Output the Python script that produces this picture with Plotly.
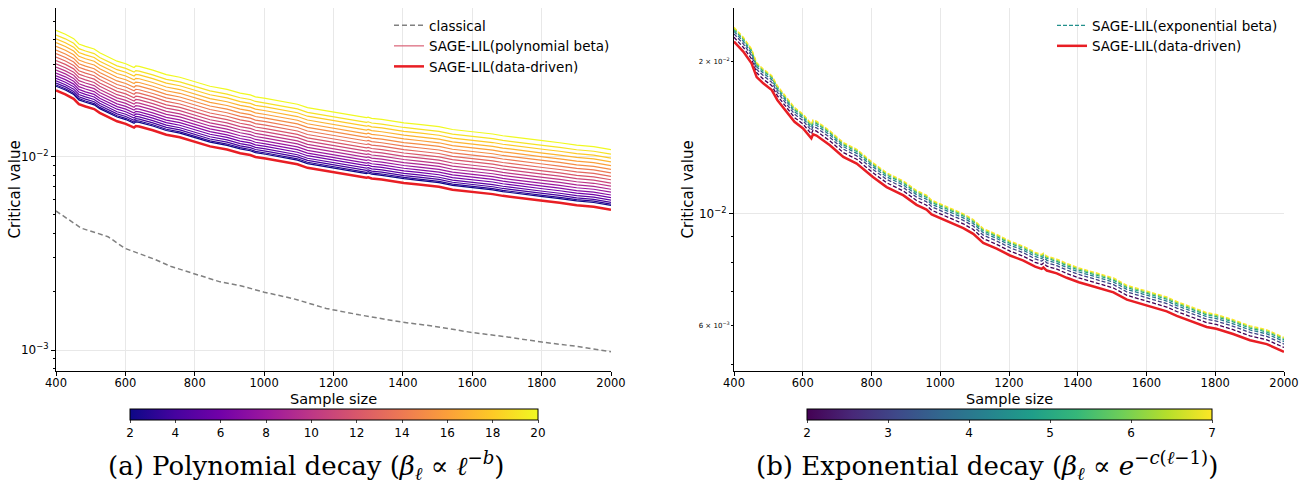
import plotly.graph_objects as go
from plotly.colors import sample_colorscale

# ---------------- data ----------------
n_dd = [400, 427, 451, 466, 485, 510, 526, 548,
        576, 601, 620, 625, 630, 640, 679, 718, 757, 804,
        844, 893, 931, 960, 975, 1004, 1038, 1067, 1096, 1125,
        1164, 1203, 1242, 1276, 1295, 1300, 1310, 1339, 1368, 1403,
        1446, 1465, 1484, 1504, 1543, 1604, 1659, 1688, 1736, 1775,
        1803, 1852, 1901, 1950, 2000]
crit_dd = [0.02194, 0.02096, 0.01987, 0.01865, 0.01813, 0.01758, 0.01680, 0.01604,
           0.01520, 0.01475, 0.01422, 0.01410, 0.01436, 0.01428, 0.01366, 0.01295, 0.01256, 0.01181,
           0.01128, 0.01086, 0.01040, 0.01018, 0.00995, 0.00976, 0.00954, 0.00935, 0.00911, 0.00874,
           0.00851, 0.00825, 0.00806, 0.00784, 0.00776, 0.00781, 0.00770, 0.00760, 0.00745, 0.00730,
           0.00716, 0.00710, 0.00704, 0.00697, 0.00674, 0.00656, 0.00639, 0.00626, 0.00609, 0.00595,
           0.00590, 0.00576, 0.00560, 0.00550, 0.00531]

n_cl = [400, 438, 473, 520, 550, 599, 685, 732, 800, 873, 932, 1000, 1085, 1179,
        1274, 1401, 1486, 1601, 1697, 1800, 1909, 2000]
crit_cl = [0.00523, 0.00470, 0.00426, 0.00401, 0.00385, 0.00335, 0.00294, 0.00270, 0.00247, 0.00225,
           0.00215, 0.00199, 0.00184, 0.00164, 0.00152, 0.00139, 0.00133, 0.00123, 0.00117, 0.00110,
           0.00104, 0.00098]

b_vals = list(range(2, 21))
poly_mult = [1.052, 1.068, 1.092, 1.121, 1.155, 1.191, 1.231, 1.275, 1.322, 1.373,
             1.428, 1.487, 1.550, 1.617, 1.689, 1.766, 1.848, 1.935, 2.045]

c_vals = [2, 3, 4, 5, 6, 7]
exp_mult = [1.020, 1.036, 1.048, 1.057, 1.063, 1.068]

x_ticks = [400, 600, 800, 1000, 1200, 1400, 1600, 1800, 2000]
b_ticks = [2, 4, 6, 8, 10, 12, 14, 16, 18, 20]
c_ticks = [2, 3, 4, 5, 6, 7]

assert len(n_dd) == len(crit_dd) and len(n_cl) == len(crit_cl)

FONT = "DejaVu Sans"
RED = "rgb(232,30,36)"
W, H = 1310, 487

fig = go.Figure()

# ---------------- left panel ----------------
pcols = sample_colorscale("Plasma", [(b - b_vals[0]) / (b_vals[-1] - b_vals[0]) for b in b_vals])
for b, m, col in zip(b_vals, poly_mult, pcols):
    fig.add_trace(go.Scatter(x=n_dd, y=[v * m for v in crit_dd], mode="lines",
                             line=dict(color=col, width=1.2), showlegend=False,
                             xaxis="x", yaxis="y", hoverinfo="skip"))
fig.add_trace(go.Scatter(x=n_cl, y=crit_cl, mode="lines", name="classical",
                         line=dict(color="rgb(128,128,128)", width=1.5, dash="5px,3px"),
                         xaxis="x", yaxis="y", legend="legend", legendrank=1))
fig.add_trace(go.Scatter(x=[None], y=[None], mode="lines", name="SAGE-LIL(polynomial beta)",
                         line=dict(color=sample_colorscale("Plasma", [0.55])[0], width=1.5),
                         opacity=0.75, xaxis="x", yaxis="y", legend="legend", legendrank=2))
fig.add_trace(go.Scatter(x=n_dd, y=crit_dd, mode="lines", name="SAGE-LIL(data-driven)",
                         line=dict(color=RED, width=2.5), xaxis="x", yaxis="y",
                         legend="legend", legendrank=3))
# colorbar carrier
fig.add_trace(go.Scatter(x=[n_dd[0]] * len(b_vals), y=[crit_dd[0]] * len(b_vals), mode="markers",
                         marker=dict(color=b_vals, colorscale="Plasma", cmin=b_vals[0], cmax=b_vals[-1],
                                     opacity=0, size=1, showscale=True,
                                     colorbar=dict(orientation="h", x=(130 + 538) / 2 / W, xanchor="center",
                                                   y=1 - 409 / H, yanchor="top", len=(538 - 130) / W,
                                                   lenmode="fraction", thickness=11, outlinewidth=1,
                                                   outlinecolor="black", tickvals=b_ticks, ticks="outside",
                                                   ticklen=3, tickfont=dict(family=FONT, size=12, color="black"),
                                                   xpad=0, ypad=0)),
                         showlegend=False, hoverinfo="skip", xaxis="x", yaxis="y"))

# ---------------- right panel ----------------
vcols = sample_colorscale("Viridis", [(c - c_vals[0]) / (c_vals[-1] - c_vals[0]) for c in c_vals])
for c, m, col in zip(c_vals, exp_mult, vcols):
    fig.add_trace(go.Scatter(x=n_dd, y=[v * m for v in crit_dd], mode="lines",
                             line=dict(color=col, width=1.3, dash="4px,2px"), showlegend=False,
                             xaxis="x2", yaxis="y2", hoverinfo="skip"))
fig.add_trace(go.Scatter(x=[None], y=[None], mode="lines", name="SAGE-LIL(exponential beta)",
                         line=dict(color=sample_colorscale("Viridis", [0.5])[0], width=1.3, dash="4px,2px"),
                         xaxis="x2", yaxis="y2", legend="legend2", legendrank=1))
fig.add_trace(go.Scatter(x=n_dd, y=crit_dd, mode="lines", name="SAGE-LIL(data-driven)",
                         line=dict(color=RED, width=2.5), xaxis="x2", yaxis="y2",
                         legend="legend2", legendrank=2))
fig.add_trace(go.Scatter(x=[n_dd[0]] * len(c_vals), y=[crit_dd[0]] * len(c_vals), mode="markers",
                         marker=dict(color=c_vals, colorscale="Viridis", cmin=c_vals[0], cmax=c_vals[-1],
                                     opacity=0, size=1, showscale=True,
                                     colorbar=dict(orientation="h", x=(807 + 1212) / 2 / W, xanchor="center",
                                                   y=1 - 409 / H, yanchor="top", len=(1212 - 807) / W,
                                                   lenmode="fraction", thickness=11, outlinewidth=1,
                                                   outlinecolor="black", tickvals=c_ticks, ticks="outside",
                                                   ticklen=3, tickfont=dict(family=FONT, size=12, color="black"),
                                                   xpad=0, ypad=0)),
                         showlegend=False, hoverinfo="skip", xaxis="x2", yaxis="y3"))

# ---------------- layout ----------------
top = 1 - 8 / H
bot = 1 - 371 / H
xcommon = dict(range=[400, 2000], tickvals=x_ticks, ticks="outside", ticklen=4, tickcolor="black",
               showline=True, linecolor="black", linewidth=1, showgrid=True, gridcolor="#e8e8e8",
               zeroline=False, automargin=False, ticklabelstandoff=-3,
               tickfont=dict(family=FONT, size=11.5, color="black"))
fig.update_layout(
    width=W, height=H, margin=dict(l=0, r=0, t=0, b=0, autoexpand=False),
    paper_bgcolor="white", plot_bgcolor="white",
    font=dict(family=FONT, color="black"),
    xaxis=dict(domain=[56 / W, 611 / W], anchor="y", **xcommon),
    xaxis2=dict(domain=[734 / W, 1284 / W], anchor="y2", **xcommon),
    yaxis=dict(domain=[bot, top], anchor="x", type="log", range=[-3.1085, -1.2326],
               tickvals=[0.001, 0.01], ticktext=["10<sup>−3</sup>", "10<sup>−2</sup>"],
               ticks="outside", ticklen=4, tickcolor="black", showline=True, linecolor="black",
               showgrid=True, gridcolor="#e8e8e8", zeroline=False, automargin=False,
               tickfont=dict(family=FONT, size=12, color="black"),
               minor=dict(tickvals=[0.0008, 0.0009, 0.002, 0.003, 0.004, 0.005, 0.006, 0.007, 0.008, 0.009,
                                    0.02, 0.03, 0.04, 0.05],
                          ticks="outside", ticklen=2, tickcolor="black", showgrid=False)),
    yaxis2=dict(domain=[bot, top], anchor="x2", type="log", range=[-2.313, -1.592],
                tickvals=[0.01], ticktext=["10<sup>−2</sup>"],
                ticks="outside", ticklen=4, tickcolor="black", showline=True, linecolor="black",
                showgrid=True, gridcolor="#e8e8e8", zeroline=False, automargin=False,
                tickfont=dict(family=FONT, size=12, color="black"),
                minor=dict(tickvals=[0.005, 0.007, 0.008, 0.009],
                           ticks="outside", ticklen=2, tickcolor="black", showgrid=False)),
    yaxis3=dict(overlaying="y2", anchor="x2", side="left", type="log", range=[-2.313, -1.592],
                tickvals=[0.006, 0.02], ticktext=["6 × 10<sup>−3</sup>", "2 × 10<sup>−2</sup>"],
                ticks="outside", ticklen=2, tickcolor="black", showline=False, showgrid=False,
                zeroline=False, automargin=False, tickfont=dict(family=FONT, size=7, color="black")),
    legend=dict(x=389 / W, y=1 - 10 / H, xanchor="left", yanchor="top", bgcolor="rgba(0,0,0,0)",
                font=dict(family=FONT, size=13.5, color="black"), tracegroupgap=0, itemwidth=30),
    legend2=dict(x=1052 / W, y=1 - 10 / H, xanchor="left", yanchor="top", bgcolor="rgba(0,0,0,0)",
                 font=dict(family=FONT, size=13.5, color="black"), tracegroupgap=0, itemwidth=30),
)

ann = []
for xc, txt in [(14, "Critical value"), (687, "Critical value")]:
    ann.append(dict(x=xc / W, y=1 - 189.5 / H, xref="paper", yref="paper", text=txt, textangle=-90,
                    showarrow=False, font=dict(family=FONT, size=15, color="black"),
                    xanchor="center", yanchor="middle"))
for xc in [(56 + 611) / 2, (734 + 1284) / 2]:
    ann.append(dict(x=xc / W, y=1 - 399 / H, xref="paper", yref="paper", text="Sample size",
                    showarrow=False, font=dict(family=FONT, size=14.5, color="black"),
                    xanchor="center", yanchor="middle"))
ann.append(dict(x=306 / W, y=1 - 465 / H, xref="paper", yref="paper",
                text="(a) Polynomial decay (<i>β</i><sub><i>ℓ</i></sub> ∝ <i>ℓ</i><sup>−<i>b</i></sup>)",
                showarrow=False, font=dict(family="DejaVu Serif", size=26, color="black"),
                xanchor="center", yanchor="middle"))
ann.append(dict(x=987 / W, y=1 - 465 / H, xref="paper", yref="paper",
                text="(b) Exponential decay (<i>β</i><sub><i>ℓ</i></sub> ∝ <i>e</i><sup>−<i>c</i>(<i>ℓ</i>−1)</sup>)",
                showarrow=False, font=dict(family="DejaVu Serif", size=26, color="black"),
                xanchor="center", yanchor="middle"))
fig.update_layout(annotations=ann)

fig.write_html("out.html", config={"displayModeBar": False},
               post_script="document.body.style.margin='0';")
